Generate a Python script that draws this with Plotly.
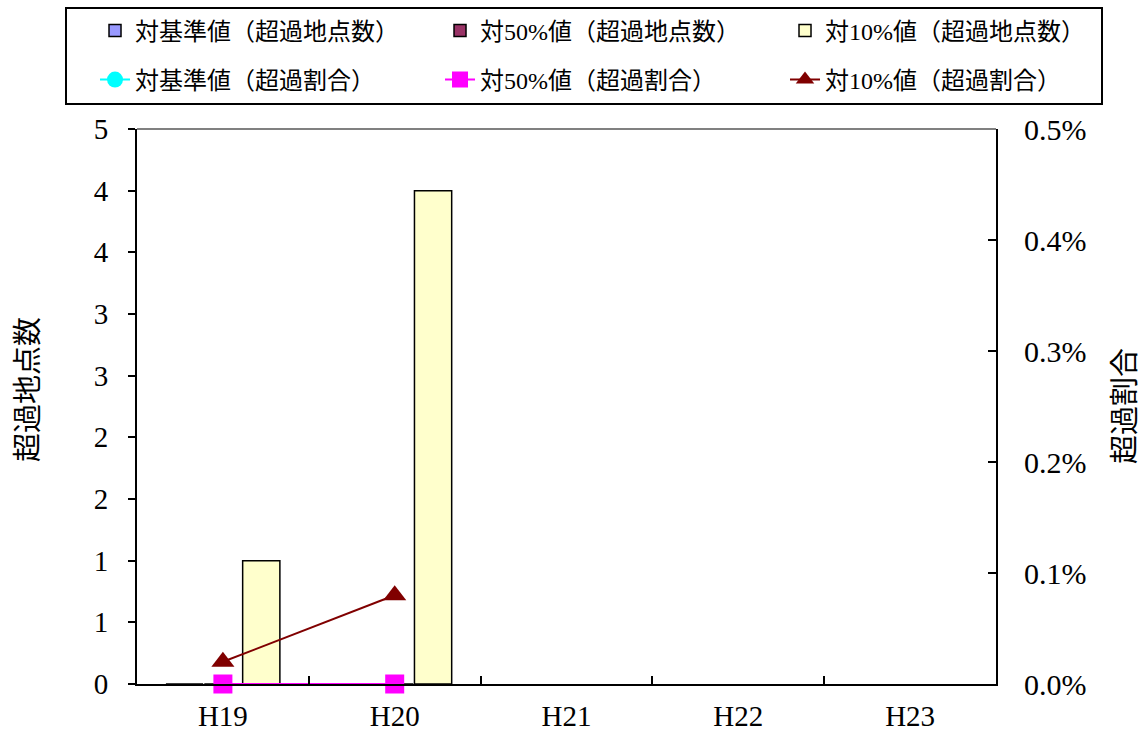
import plotly.graph_objects as go

# 年度
years = ["H19", "H20", "H21", "H22", "H23"]

# 超過地点数（左軸）
count_std = [0, 0, None, None, None]
count_50 = [0, 0, None, None, None]
count_10 = [1, 4, None, None, None]

# 超過割合（右軸）
ratio_std = [0, 0, None, None, None]
ratio_50 = [0, 0, None, None, None]
ratio_10 = [0.0002, 0.0008, None, None, None]

# 左軸の目盛（0.5刻み、整数表示）
count_ticks = [0, 0.5, 1, 1.5, 2, 2.5, 3, 3.5, 4, 4.5]
count_tick_text = ["0", "1", "1", "2", "2", "3", "3", "4", "4", "5"]

names_count = ["対基準値（超過地点数）", "対50%値（超過地点数）", "対10%値（超過地点数）"]
names_ratio = ["対基準値（超過割合）", "対50%値（超過割合）", "対10%値（超過割合）"]

SERIF = "Liberation Serif, Times New Roman, serif"
MIXED = "Liberation Serif, Noto Sans CJK JP, serif"
CJK = "Noto Sans CJK JP, sans-serif"

# 凡例：3列×2行（各項目を個別の凡例として配置）
legend_ids_count = ["legend", "legend2", "legend3"]
legend_ids_ratio = ["legend4", "legend5", "legend6"]
legend_cols = [0.0832, 0.3853, 0.6874]
legend_rows = [1 - 31 / 731, 1 - 80 / 731]

fig = go.Figure()

bar_colors = ["#9999FF", "#993366", "#FFFFCC"]
for name, vals, col, lg in zip(names_count, [count_std, count_50, count_10], bar_colors, legend_ids_count):
    fig.add_trace(go.Bar(
        x=years, y=vals, name=name, yaxis="y",
        marker=dict(color=col, line=dict(color="#000000", width=1.5)),
        legend=lg, showlegend=True,
    ))

line_styles = [
    ("#00FFFF", "circle", 17),
    ("#FF00FF", "square", 19),
    ("#800000", "triangle-up", 20),
]
for name, vals, (col, sym, size), lg in zip(names_ratio, [ratio_std, ratio_50, ratio_10], line_styles, legend_ids_ratio):
    fig.add_trace(go.Scatter(
        x=years, y=vals, name=name, yaxis="y2",
        mode="lines+markers",
        line=dict(color=col, width=2),
        marker=dict(color=col, symbol=sym, size=size),
        cliponaxis=False,
        legend=lg, showlegend=True,
    ))

legend_layout = {}
for row, ids in enumerate([legend_ids_count, legend_ids_ratio]):
    for col, lg in enumerate(ids):
        legend_layout[lg] = dict(
            xref="container", yref="container",
            x=legend_cols[col], y=legend_rows[row],
            xanchor="left", yanchor="middle",
            font=dict(family=MIXED, size=24, color="#000000"),
            bgcolor="rgba(0,0,0,0)",
        )

title_font = dict(family=CJK, size=29, color="#000000")

fig.update_layout(
    width=1142, height=731,
    showlegend=True,
    margin=dict(l=137, r=146, t=129, b=47, autoexpand=False),
    paper_bgcolor="#FFFFFF", plot_bgcolor="#FFFFFF",
    barmode="group", bargap=0.33, bargroupgap=0.03,
    **legend_layout,
    xaxis=dict(
        type="category", categoryorder="array", categoryarray=years,
        range=[-0.5, 4.5], automargin=False,
        showline=True, linecolor="#000000", linewidth=2,
        ticks="inside", tickson="boundaries", ticklen=8, tickwidth=1.5, tickcolor="#000000",
        ticklabelstandoff=5,
        tickfont=dict(family=SERIF, size=29, color="#000000"),
        showgrid=False, zeroline=False,
    ),
    yaxis=dict(
        range=[0, 4.5], tickvals=count_ticks, ticktext=count_tick_text,
        automargin=False,
        showline=True, linecolor="#000000", linewidth=2,
        ticks="outside", ticklen=7, tickwidth=1.5, tickcolor="#000000",
        ticklabelstandoff=14,
        tickfont=dict(family=SERIF, size=29, color="#000000"),
        showgrid=False, zeroline=False,
    ),
    yaxis2=dict(
        overlaying="y", side="right",
        range=[0, 0.005], dtick=0.001, tick0=0, tickformat=".1%",
        automargin=False,
        showline=True, linecolor="#000000", linewidth=2,
        ticks="inside", ticklen=8, tickwidth=1.5, tickcolor="#000000",
        ticklabelstandoff=20,
        tickfont=dict(family=SERIF, size=30, color="#000000"),
        showgrid=False, zeroline=False,
    ),
    annotations=[
        dict(text="超過地点数", textangle=-90, font=title_font, showarrow=False,
             xref="paper", yref="paper", x=(25 - 137) / 859, y=(684 - 390) / 555,
             xanchor="center", yanchor="middle"),
        dict(text="超過割合", textangle=-90, font=title_font, showarrow=False,
             xref="paper", yref="paper", x=(1122 - 137) / 859, y=(684 - 406) / 555,
             xanchor="center", yanchor="middle"),
    ],
    shapes=[
        # 凡例枠
        dict(type="rect", xref="paper", yref="paper",
             x0=(66 - 137) / 859, x1=(1102 - 137) / 859,
             y0=(684 - 104) / 555, y1=(684 - 8) / 555,
             line=dict(color="#000000", width=2), fillcolor="rgba(0,0,0,0)", layer="below"),
        # プロットエリア上辺
        dict(type="line", xref="paper", yref="paper", x0=0, x1=1, y0=1, y1=1,
             line=dict(color="#808080", width=2)),
    ],
)

fig.write_html("out.html")
